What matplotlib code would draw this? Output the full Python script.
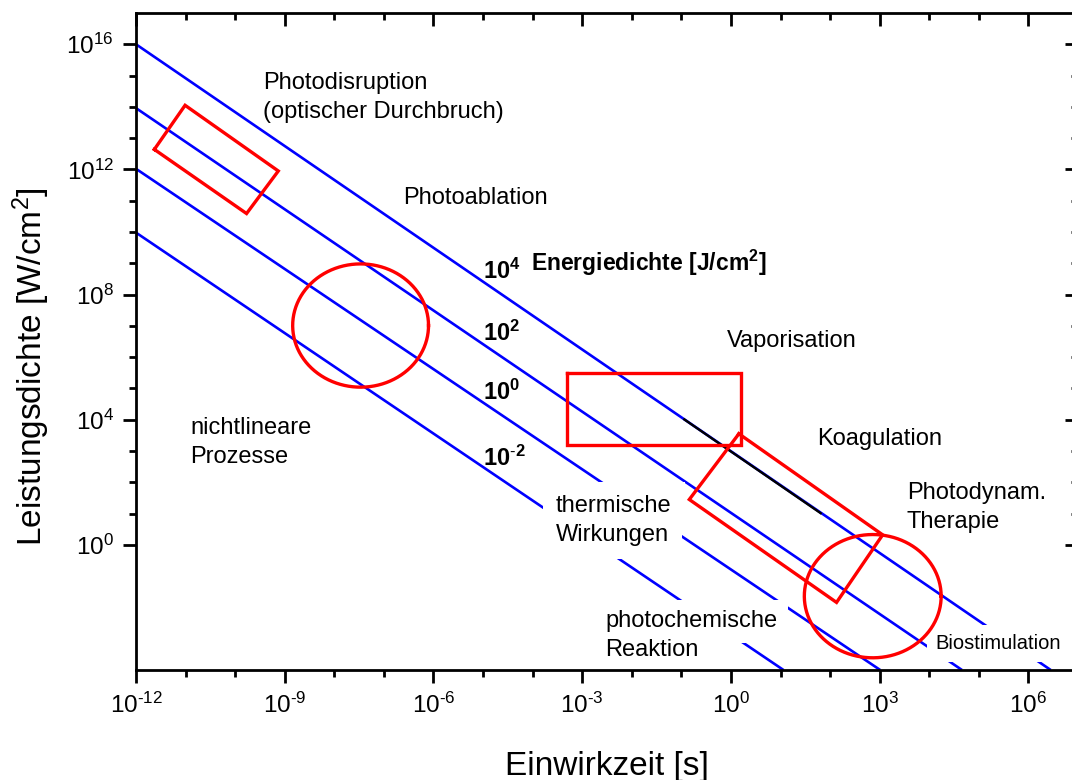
import numpy as np
import matplotlib
matplotlib.use('Agg')
import matplotlib.pyplot as plt
from matplotlib.ticker import FixedLocator, FixedFormatter, NullFormatter

plt.rcParams['font.family'] = ['Liberation Sans', 'DejaVu Sans']
plt.rcParams['mathtext.fontset'] = 'custom'
plt.rcParams['mathtext.rm'] = 'Liberation Sans'
plt.rcParams['mathtext.it'] = 'Liberation Sans:italic'
plt.rcParams['mathtext.bf'] = 'Liberation Sans:bold'
plt.rcParams['axes.unicode_minus'] = False

# ---------------- data (log10 values) ----------------
x_lim_exp = (-12, 7)
y_lim_exp = (-4, 17)
x_major_exp = [-12, -9, -6, -3, 0, 3, 6]
x_minor_exp = [e for e in range(-12, 8) if e not in x_major_exp]
y_major_exp = [0, 4, 8, 12, 16]
y_minor_exp = [1, 2, 3, 5, 6, 7, 9, 10, 11, 13, 14, 15]

# energy density lines (exponent label, start/end in log10 units)
energy_exp = [4, 2, 0, -2]
line_x0 = [-12.0, -12.0, -12.0, -12.0]
line_y0 = [16.0, 13.96, 12.02, 9.98]
line_x1 = [6.45, 4.66, 3.01, 1.06]
line_y1 = [-4.0, -4.0, -4.0, -4.0]

# black segment lying on the 10^4 line
black_x = [-0.96, 1.83]
black_y = [4.03, 0.99]

# red rectangles (corner coordinates, log10)
rect1_x = [-11.63, -11.01, -9.13, -9.77]
rect1_y = [12.64, 14.05, 11.95, 10.59]
rect2_x = [-3.30, 0.21, 0.21, -3.30]
rect2_y = [5.49, 5.49, 3.18, 3.18]
rect3_x = [0.16, 3.06, 2.13, -0.84]
rect3_y = [3.55, 0.32, -1.84, 1.45]

# red circles: centre and radii in decades
circ_cx = [-7.47, 2.86]
circ_cy = [7.01, -1.64]
circ_rx = [1.37, 1.38]
circ_ry = [1.97, 1.97]

# ---------------- figure ----------------
W, H = 1072, 780
fig = plt.figure(figsize=(W / 100, H / 100), dpi=100)
ax_l, ax_r, ax_t, ax_b = 136, 1078, 13, 670
pos = [ax_l / W, (H - ax_b) / H, (ax_r - ax_l) / W, (ax_b - ax_t) / H]
ax = fig.add_axes(pos)
ax.set_xscale('log')
ax.set_yscale('log')
ax.set_xlim(10.0 ** x_lim_exp[0], 10.0 ** x_lim_exp[1])
ax.set_ylim(10.0 ** y_lim_exp[0], 10.0 ** y_lim_exp[1])

BLUE = '#0000ff'
RED = '#ff0000'

for x0, y0, x1, y1 in zip(line_x0, line_y0, line_x1, line_y1):
    ax.plot([10 ** x0, 10 ** x1], [10 ** y0, 10 ** y1], color=BLUE, lw=1.9,
            solid_capstyle='butt', zorder=2)
ax.plot([10 ** v for v in black_x], [10 ** v for v in black_y], color='black',
        lw=1.7, solid_capstyle='butt', zorder=2.05)

for rx_, ry_ in [(rect1_x, rect1_y), (rect2_x, rect2_y), (rect3_x, rect3_y)]:
    xs = [10 ** v for v in rx_ + rx_[:1]]
    ys = [10 ** v for v in ry_ + ry_[:1]]
    ax.plot(xs, ys, color=RED, lw=2.4, solid_joinstyle='miter', zorder=2.4)

t = np.linspace(0, 2 * np.pi, 400)
for cx, cy, rx, ry in zip(circ_cx, circ_cy, circ_rx, circ_ry):
    ax.plot(10 ** (cx + rx * np.cos(t)), 10 ** (cy + ry * np.sin(t)),
            color=RED, lw=2.4, zorder=2.4)

# ---------------- annotations ----------------
def label(lx, ly, s, size=17, box=False, pad=0.55, weight='normal'):
    common = dict(fontsize=size, fontweight=weight, ha='left', va='baseline')
    if box:
        # white mask behind the text that interrupts the lines
        ax.text(10 ** lx, 10 ** ly, s, color='none', zorder=2.2, clip_on=True,
                bbox=dict(boxstyle='square,pad=%g' % pad, fc='white', ec='none'),
                **common)
    ax.text(10 ** lx, 10 ** ly, s, color='black', zorder=2.3, **common)

label(-9.44, 14.58, 'Photodisruption')
label(-9.44, 13.65, '(optischer Durchbruch)')
label(-6.61, 10.91, 'Photoablation')
label(-0.09, 6.32, 'Vaporisation')
label(-10.91, 3.55, 'nichtlineare')
label(-10.91, 2.61, 'Prozesse')
label(1.73, 3.18, 'Koagulation')
label(-3.53, 1.04, 'thermische', box=True)
label(-3.53, 0.12, 'Wirkungen', box=True)
label(3.55, 1.47, 'Photodynam.')
label(3.55, 0.55, 'Therapie')
label(-2.54, -2.64, 'photochemische', box=True, pad=0.45)
label(-2.54, -3.54, 'Reaktion', box=True, pad=0.45)
label(4.13, -3.33, 'Biostimulation', size=14.5, box=True, pad=0.45)


def sup(e):
    s = str(abs(e))
    return (r'\text{-}' + s) if e < 0 else s


energy_label_x = [-5.01, -5.00, -5.00, -5.00]
energy_label_y = [8.51, 6.53, 4.62, 2.52]
for e, lx, ly in zip(energy_exp, energy_label_x, energy_label_y):
    label(lx, ly, r'$\mathbf{10^{%s}}$' % sup(e), size=17)
label(-4.04, 8.75, r'Energiedichte [J/cm$^\mathbf{2}$]', size=16.5, weight='bold')

# ---------------- ticks ----------------
def fmt(e):
    return r'$\mathregular{10^{%s}}$' % sup(e)

ax.xaxis.set_major_locator(FixedLocator([10.0 ** e for e in x_major_exp]))
ax.xaxis.set_major_formatter(FixedFormatter([fmt(e) for e in x_major_exp]))
ax.xaxis.set_minor_locator(FixedLocator([10.0 ** e for e in x_minor_exp]))
ax.xaxis.set_minor_formatter(NullFormatter())
ax.yaxis.set_major_locator(FixedLocator([10.0 ** e for e in y_major_exp]))
ax.yaxis.set_major_formatter(FixedFormatter([fmt(e) for e in y_major_exp]))
ax.yaxis.set_minor_locator(FixedLocator([10.0 ** e for e in y_minor_exp]))
ax.yaxis.set_minor_formatter(NullFormatter())

ax.tick_params(which='major', direction='out', length=9.5, width=2,
               labelsize=17.5, colors='black')
ax.tick_params(axis='x', which='major', pad=7)
ax.tick_params(axis='y', which='major', pad=6.5)
ax.tick_params(which='minor', direction='out', length=5.3, width=2)
for s in ax.spines.values():
    s.set_linewidth(2)
    s.set_zorder(3)

# top / right inward ticks via overlay axes
ax2 = fig.add_axes(pos, frameon=False)
ax2.set_xscale('log')
ax2.set_yscale('log')
ax2.set_xlim(ax.get_xlim())
ax2.set_ylim(ax.get_ylim())
ax2.xaxis.set_major_locator(FixedLocator([10.0 ** e for e in x_major_exp]))
ax2.xaxis.set_minor_locator(FixedLocator([10.0 ** e for e in x_minor_exp]))
ax2.yaxis.set_major_locator(FixedLocator([10.0 ** e for e in y_major_exp]))
ax2.yaxis.set_minor_locator(FixedLocator([10.0 ** e for e in y_minor_exp]))
ax2.xaxis.tick_top()
ax2.yaxis.tick_right()
ax2.tick_params(which='both', direction='in', labeltop=False, labelright=False,
                labelbottom=False, labelleft=False)
ax2.tick_params(which='major', length=9.5, width=2)
ax2.tick_params(which='minor', length=5.3, width=2)
ax2.patch.set_visible(False)

# axis titles
fig.text(607 / W, (H - 775) / H, 'Einwirkzeit [s]', fontsize=24,
         ha='center', va='baseline')
fig.text(42 / W, (H - 367) / H, r'Leistungsdichte [W/cm$^2$]', fontsize=24,
         rotation=90, rotation_mode='anchor', ha='center', va='baseline')

fig.savefig('out.png', dpi=100)
